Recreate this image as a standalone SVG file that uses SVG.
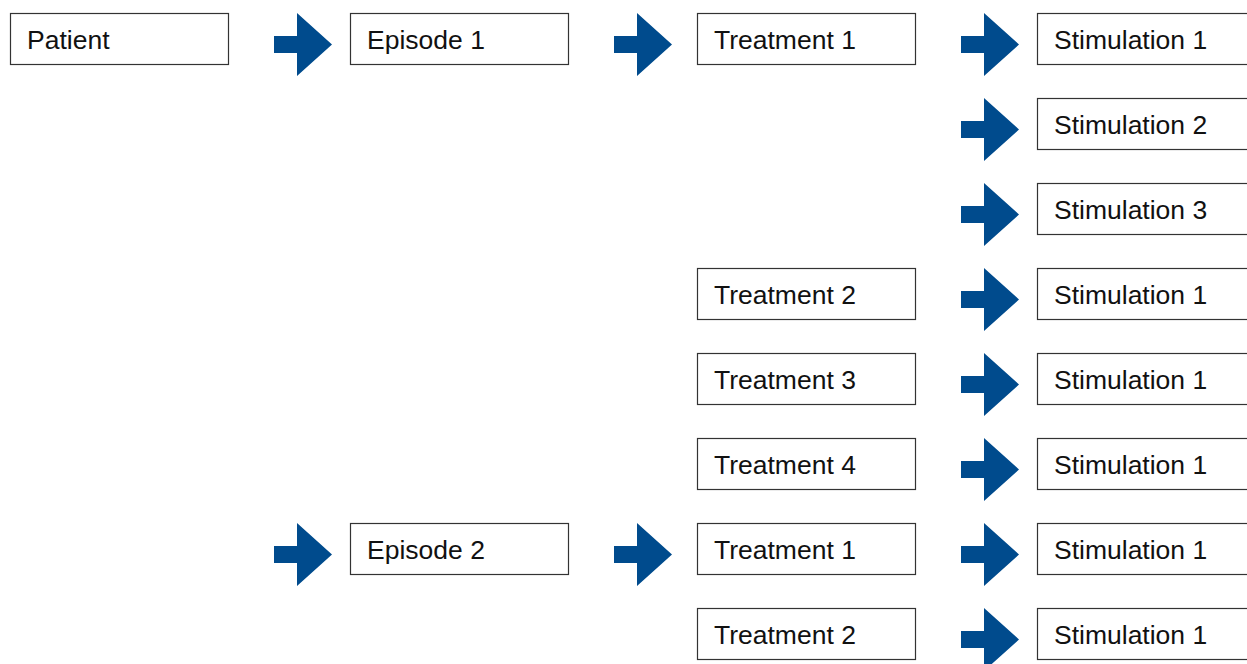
<svg xmlns="http://www.w3.org/2000/svg" width="1247" height="664" viewBox="0 0 1247 664">
<style>
.box{fill:#fff;stroke:#333;stroke-width:1.2}
.lbl{font-family:"Liberation Sans",Arial,sans-serif;font-size:26.5px;fill:#111}
.arr{fill:#004b8d}
</style>
<defs>
<polygon id="arrow" class="arr" points="0,-8.5 23,-8.5 23,-31.5 58,0 23,31.5 23,8.5 0,8.5"/>
</defs>
<rect width="1247" height="664" fill="#fff"/>
<g id="connectors">
<use href="#arrow" x="274" y="44.5"/>
<use href="#arrow" x="614" y="44.5"/>
<use href="#arrow" x="961" y="44.5"/>
<use href="#arrow" x="961" y="129.5"/>
<use href="#arrow" x="961" y="214.5"/>
<use href="#arrow" x="961" y="299.5"/>
<use href="#arrow" x="961" y="384.5"/>
<use href="#arrow" x="961" y="469.5"/>
<use href="#arrow" x="274" y="554.5"/>
<use href="#arrow" x="614" y="554.5"/>
<use href="#arrow" x="961" y="554.5"/>
<use href="#arrow" x="961" y="639.5"/>
</g>
<g id="patient"><rect class="box" x="10.5" y="13.5" width="218" height="51"/><text class="lbl" x="27" y="48.5">Patient</text></g>
<g id="episode1"><rect class="box" x="350.5" y="13.5" width="218" height="51"/><text class="lbl" x="367" y="48.5">Episode 1</text></g>
<g id="episode2"><rect class="box" x="350.5" y="523.5" width="218" height="51"/><text class="lbl" x="367" y="558.5">Episode 2</text></g>
<g id="e1t1"><rect class="box" x="697.5" y="13.5" width="218" height="51"/><text class="lbl" x="714" y="48.5">Treatment 1</text></g>
<g id="e1t2"><rect class="box" x="697.5" y="268.5" width="218" height="51"/><text class="lbl" x="714" y="303.5">Treatment 2</text></g>
<g id="e1t3"><rect class="box" x="697.5" y="353.5" width="218" height="51"/><text class="lbl" x="714" y="388.5">Treatment 3</text></g>
<g id="e1t4"><rect class="box" x="697.5" y="438.5" width="218" height="51"/><text class="lbl" x="714" y="473.5">Treatment 4</text></g>
<g id="e2t1"><rect class="box" x="697.5" y="523.5" width="218" height="51"/><text class="lbl" x="714" y="558.5">Treatment 1</text></g>
<g id="e2t2"><rect class="box" x="697.5" y="608.5" width="218" height="51"/><text class="lbl" x="714" y="643.5">Treatment 2</text></g>
<g id="s1"><rect class="box" x="1037.5" y="13.5" width="230" height="51"/><text class="lbl" x="1054" y="48.5">Stimulation 1</text></g>
<g id="s2"><rect class="box" x="1037.5" y="98.5" width="230" height="51"/><text class="lbl" x="1054" y="133.5">Stimulation 2</text></g>
<g id="s3"><rect class="box" x="1037.5" y="183.5" width="230" height="51"/><text class="lbl" x="1054" y="218.5">Stimulation 3</text></g>
<g id="s4"><rect class="box" x="1037.5" y="268.5" width="230" height="51"/><text class="lbl" x="1054" y="303.5">Stimulation 1</text></g>
<g id="s5"><rect class="box" x="1037.5" y="353.5" width="230" height="51"/><text class="lbl" x="1054" y="388.5">Stimulation 1</text></g>
<g id="s6"><rect class="box" x="1037.5" y="438.5" width="230" height="51"/><text class="lbl" x="1054" y="473.5">Stimulation 1</text></g>
<g id="s7"><rect class="box" x="1037.5" y="523.5" width="230" height="51"/><text class="lbl" x="1054" y="558.5">Stimulation 1</text></g>
<g id="s8"><rect class="box" x="1037.5" y="608.5" width="230" height="51"/><text class="lbl" x="1054" y="643.5">Stimulation 1</text></g>
</svg>
